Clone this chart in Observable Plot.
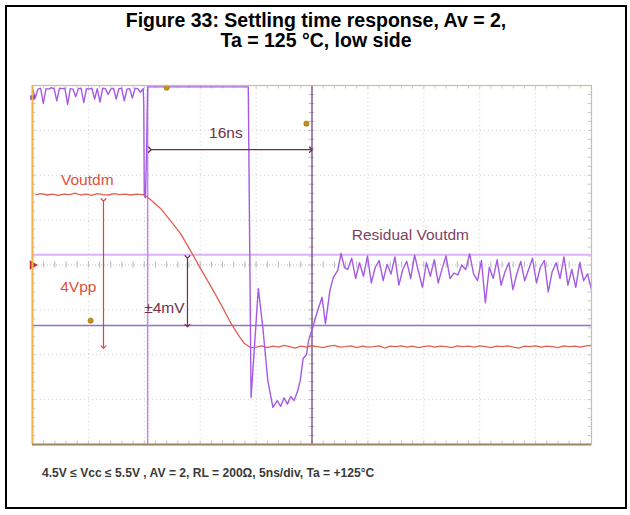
<!DOCTYPE html>
<html>
<head>
<meta charset="utf-8">
<script src="https://cdn.jsdelivr.net/npm/d3@7"></script>
<script src="https://cdn.jsdelivr.net/npm/@observablehq/plot@0.6"></script>
<style>
  html, body { margin: 0; padding: 0; background: #fff; }
  body { width: 630px; height: 515px; position: relative; overflow: hidden; font-family: "Liberation Sans", Arial, sans-serif; }
  #box { position: absolute; left: 5px; top: 5px; width: 618px; height: 500px; border: 2px solid #000; }
  #title { position: absolute; left: 5px; width: 622px; top: 10px; text-align: center; font-weight: bold; font-size: 19.5px; line-height: 20px; color: #000; }
  #chart { position: absolute; left: 0; top: 0; }
  #caption { position: absolute; left: 42px; top: 466px; font-size: 12.1px; font-weight: bold; color: #3a3a3a; }
</style>
</head>
<body>
<div id="box"></div>
<div id="title">Figure 33: Settling time response, Av = 2,<br>Ta = 125 °C, low side</div>
<div id="chart"></div>
<div id="caption">4.5V ≤ Vcc ≤ 5.5V , AV = 2, RL = 200Ω, 5ns/div, Ta = +125°C</div>
<script>
// ---- time base: 5 ns/div, 10 divisions; vertical: 8 divisions ----
const xDomain = [0, 50];
const yDomain = [-4, 4];
const gridX = [5, 10, 15, 20, 30, 35, 40, 45];
const gridY = [-3, -2, -1, 1, 2, 3];
const minorX = d3.range(0, 50.01, 1);
const minorY = d3.range(-4, 4.01, 0.2);

// ---- Voutdm (red) trace ----
const redLeftStart = 0.3, redLeftEnd = 9.8;
const redLeft = [1.57,1.59,1.56,1.58,1.55,1.58,1.57,1.60,1.56,1.58,1.55,1.59,1.57,1.56,1.59,1.57,1.58,1.56,1.58,1.57];
const redEdgeT = [9.93, 10.55, 11.45, 12.34, 13.24, 14.13, 15.03, 15.92, 16.82, 17.71, 18.43, 18.96, 19.5];
const redEdgeV = [1.57, 1.46, 1.26, 0.99, 0.70, 0.32, -0.08, -0.46, -0.86, -1.28, -1.57, -1.75, -1.84];
const redRightStart = 20, redRightEnd = 50;
const redRight = [-1.83,-1.80,-1.84,-1.81,-1.83,-1.79,-1.82,-1.85,-1.81,-1.83,-1.80,-1.82,-1.84,-1.81,-1.79,-1.83,-1.82,-1.80,-1.84,-1.81,-1.83,-1.82,-1.80,-1.85,-1.81,-1.82,-1.80,-1.83,-1.81,-1.84,-1.82,-1.80,-1.83,-1.81,-1.82,-1.84,-1.80,-1.82,-1.81,-1.83,-1.80,-1.82,-1.84,-1.81,-1.82,-1.80,-1.83,-1.85,-1.81,-1.82,-1.80,-1.83,-1.81,-1.82,-1.84,-1.80,-1.82,-1.81,-1.83,-1.80,-1.79];

// ---- Residual Voutdm (purple) trace ----
const purLeftStart = 0, purLeftEnd = 9.9;
const purLeft = [3.93,3.72,3.92,3.94,3.60,3.93,3.92,3.95,3.93,3.66,3.94,3.93,3.94,3.58,3.93,3.92,3.75,3.93,3.94,3.62,3.93,3.92,3.94,3.70,3.93,3.63,3.94,3.93,3.80,3.92,3.94,3.70,3.93,3.94,3.66,3.92,3.93,3.72,3.94,3.93,3.85,3.93];
const purMidT = [9.95, 10.0, 10.1, 10.2, 10.3, 19.2, 19.3, 19.55, 20.2, 20.6, 21.05, 21.5, 21.9, 22.2, 22.5, 22.8, 23.1, 23.4, 23.7, 23.95, 24.2, 24.5, 24.7, 25.05, 25.5, 25.9, 26.2, 26.6, 26.9, 27.3, 27.6, 27.9];
const purMidV = [3.6, 1.55, 1.5, 2.5, 3.97, 3.97, 3.97, -2.95, -0.52, -1.39, -2.58, -3.17, -3.02, -3.15, -2.96, -3.10, -2.93, -3.02, -2.82, -2.57, -2.09, -2.0, -1.68, -1.40, -1.02, -0.72, -1.31, -0.57, -0.28, -0.12, 0.26, -0.06];
const purRightStart = 28.2, purRightEnd = 50;
const purRight = [-0.10,0.15,-0.30,0.05,-0.25,0.20,-0.40,-0.05,0.10,-0.35,0.02,-0.20,0.18,-0.45,-0.10,0.08,-0.30,0.22,-0.15,-0.50,0.05,-0.25,0.12,-0.40,-0.08,0.20,-0.30,-0.18,-0.22,0.00,-0.10,0.25,-0.20,-0.35,0.10,-0.84,-0.05,-0.30,0.12,-0.45,-0.15,0.05,-0.55,-0.20,0.08,-0.35,-0.10,0.15,-0.40,-0.05,0.10,-0.60,-0.15,0.05,-0.30,0.18,-0.45,-0.10,-0.50,0.05,-0.35,-0.20,-0.55];

// ---- cursors, bounds, annotations ----
const cursorT = [10.3, 25.0];
const boundV = [0.23, -1.35];
const arrow16 = {t1: 10.5, t2: 24.9, v: 2.57};
const arrowVpp = {t: 6.35, v1: 1.45, v2: -1.83};
const arrowMv = {t: 13.86, v1: 0.18, v2: -1.35};
const labels = [
  {t: 4.9, v: 1.90, text: "Voutdm", c: "#e0503c"},
  {t: 4.1, v: -0.50, text: "4Vpp", c: "#e0503c"},
  {t: 11.8, v: -0.95, text: "±4mV", c: "#6e2f4c"},
  {t: 17.3, v: 2.95, text: "16ns", c: "#6e2f4c"},
  {t: 33.8, v: 0.66, text: "Residual Voutdm", c: "#7e3f62"}
];
const markerDotsT = [12.0, 24.5, 5.2];
const markerDotsV = [3.95, 3.15, -1.24];

function spread(vals, a, b) {
  const n = vals.length;
  return vals.map((v, i) => ({t: a + i * (b - a) / (n - 1), v}));
}
const red = [
  ...spread(redLeft, redLeftStart, redLeftEnd),
  ...redEdgeT.map((t, i) => ({t, v: redEdgeV[i]})),
  ...spread(redRight, redRightStart, redRightEnd)
];
const pur = [
  ...spread(purLeft, purLeftStart, purLeftEnd),
  ...purMidT.map((t, i) => ({t, v: purMidV[i]})),
  ...spread(purRight, purRightStart, purRightEnd)
];
const dots = markerDotsT.map((t, i) => ({t, v: markerDotsV[i]}));

const fontFam = "Liberation Sans, Arial, sans-serif";

const chart = Plot.plot({
  width: 630,
  height: 460,
  marginLeft: 32,
  marginRight: 39,
  marginTop: 85,
  marginBottom: 16,
  x: {domain: xDomain, axis: null},
  y: {domain: yDomain, axis: null},
  style: {background: "transparent", fontFamily: fontFam},
  marks: [
    // dotted graticule
    Plot.ruleX(gridX, {stroke: "#cfcfcf", strokeDasharray: "1,3", strokeWidth: 1}),
    Plot.ruleY(gridY, {stroke: "#cfcfcf", strokeDasharray: "1,3", strokeWidth: 1}),
    Plot.ruleY([0], {stroke: "#bdbdbd", strokeDasharray: "1,2", strokeWidth: 1}),
    // minor ticks on centre lines and edges
    Plot.ruleX(minorX, {y1: -0.07, y2: 0.07, stroke: "#b8b8b8"}),
    Plot.ruleY(minorY, {x1: 24.75, x2: 25.25, stroke: "#b8b8b8"}),
    Plot.ruleX(minorX, {y1: 3.92, y2: 4, stroke: "#c8c8c8"}),
    Plot.ruleX(minorX, {y1: -4, y2: -3.92, stroke: "#c8c8c8"}),
    Plot.ruleY(minorY, {x1: 0, x2: 0.3, stroke: "#c8c8c8"}),
    Plot.ruleY(minorY, {x1: 49.7, x2: 50, stroke: "#c8c8c8"}),
    // bounds and cursors
    Plot.ruleY([boundV[0]], {stroke: "#dcb2f6", strokeWidth: 2}),
    Plot.ruleY([boundV[1]], {stroke: "#8f72c6", strokeWidth: 1.5}),
    Plot.ruleX([cursorT[0]], {stroke: "#c284f2", strokeWidth: 1.5}),
    Plot.ruleX([cursorT[1]], {stroke: "#7d5f92", strokeWidth: 1.5}),
    // traces
    Plot.line(red, {x: "t", y: "v", stroke: "#e2604f", strokeWidth: 1.3, clip: true}),
    Plot.line(pur, {x: "t", y: "v", stroke: "#a55ae6", strokeWidth: 1.4, clip: true}),
    // arrows
    Plot.link([arrow16], {x1: "t1", x2: "t2", y1: "v", y2: "v", stroke: "#6e2f4c", strokeWidth: 1.3, markerStart: "arrow", markerEnd: "arrow"}),
    Plot.link([arrowVpp], {x1: "t", x2: "t", y1: "v1", y2: "v2", stroke: "#d9463a", strokeWidth: 1.2, markerStart: "arrow", markerEnd: "arrow"}),
    Plot.link([arrowMv], {x1: "t", x2: "t", y1: "v1", y2: "v2", stroke: "#6e2f4c", strokeWidth: 1.2, markerStart: "arrow", markerEnd: "arrow"}),
    // labels
    Plot.text(labels, {x: "t", y: "v", text: "text", fill: "c", fontSize: 15.5, fontFamily: fontFam}),
    // markers
    Plot.dot(dots, {x: "t", y: "v", r: 2.6, fill: "#c8901a", stroke: "#9a6a10", strokeWidth: 0.6}),
    Plot.dot([{t: 0, v: 0}], {x: "t", y: "v", symbol: "triangle", rotate: 90, r: 3.5, fill: "#c0302a"}),
    Plot.dot([{t: 0, v: 3.73}], {x: "t", y: "v", symbol: "square", r: 2.5, fill: "#6a2aa0"}),
    // scope frame
    Plot.frame({stroke: "#d8bc8a", strokeWidth: 1.2}),
    Plot.ruleX([0], {stroke: "#f0b24e", strokeWidth: 2}),
    Plot.ruleY([-4], {stroke: "#a08464", strokeWidth: 2})
  ]
});
document.getElementById("chart").appendChild(chart);
</script>
</body>
</html>
